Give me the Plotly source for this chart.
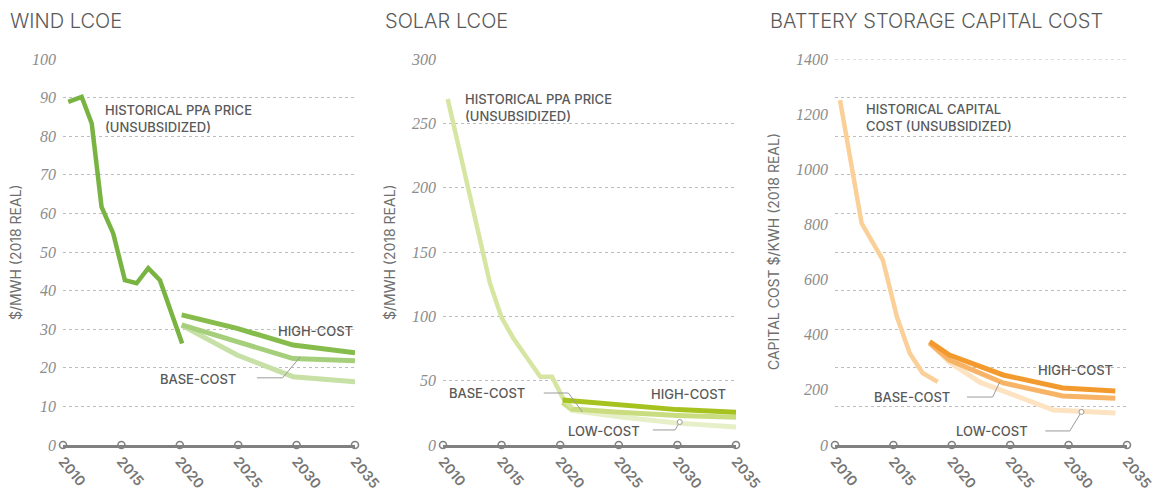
import plotly.graph_objects as go

# ---- data ----
tick_years = [2010, 2015, 2020, 2025, 2030, 2035]

wind_hist_x = [2010.45, 2011.6, 2012.46, 2013.3, 2014.3, 2015.3, 2016.3, 2017.3, 2018.3, 2020.2]
wind_hist_y = [88.9, 90.2, 83.3, 61.7, 54.8, 42.7, 41.9, 45.8, 42.7, 26.3]
wind_proj_x = [2020.16, 2024.9, 2029.7, 2035.0]
wind_high = [33.7, 30.2, 25.9, 23.9]
wind_base = [31.1, 26.8, 22.4, 21.8]
wind_low = [31.0, 23.3, 17.7, 16.4]

solar_hist_x = [2010.4, 2012.1, 2013.3, 2014.0, 2015.0, 2016.0, 2017.0, 2018.3, 2019.3, 2020.2, 2021.0]
solar_hist_y = [269, 200, 151, 126, 99, 83, 70, 53, 53, 37, 29]
solar_high_x = [2020.2, 2025.0, 2030.0, 2035.0]
solar_high = [35.0, 31.0, 27.5, 25.5]
solar_low_x = [2020.2, 2021.0, 2025.0, 2030.0, 2035.0]
solar_base = [33.0, 28.0, 25.5, 23.0, 21.5]
solar_low = [33.0, 27.0, 22.0, 17.0, 14.0]

batt_hist_x = [2010.43, 2012.28, 2014.1, 2015.3, 2016.4, 2017.5, 2018.8]
batt_hist_y = [1251, 804, 671, 465, 333, 261, 229]
batt_proj_x = [2018.1, 2019.8, 2024.4, 2029.5, 2034.0]
batt_high = [375, 326, 254, 207, 196]
batt_base = [370, 308, 225, 178, 170]
batt_low_x = [2018.1, 2019.8, 2022.4, 2028.7, 2034.0]
batt_low = [370, 300, 228, 127, 116]

GRAY = '#595959'
GRID = '#bdbdbd'
AXIS = '#808080'

fig = go.Figure()


def line(x, y, color, width, ax):
    fig.add_trace(go.Scatter(x=x, y=y, mode='lines', xaxis='x' + ax, yaxis='y' + ax,
                             line=dict(color=color, width=width), hoverinfo='skip',
                             showlegend=False))


# lowest lines first so the darker ones sit on top
line(wind_proj_x, wind_low, '#c6e0a6', 5, '')
line(wind_proj_x, wind_base, '#a6cf7c', 5, '')
line(wind_proj_x, wind_high, '#86bc4c', 5, '')
line(wind_hist_x, wind_hist_y, '#79b443', 4.5, '')

line(solar_low_x, solar_low, '#e6efc8', 5, '2')
line(solar_low_x, solar_base, '#c9dd80', 5, '2')
line(solar_hist_x, solar_hist_y, '#d6e6a2', 4.5, '2')
line(solar_high_x, solar_high, '#a6c21e', 5, '2')

line(batt_low_x, batt_low, '#fde3c2', 5, '3')
line(batt_proj_x, batt_base, '#f7b366', 5, '3')
line(batt_proj_x, batt_high, '#f39a2e', 5, '3')
line(batt_hist_x, batt_hist_y, '#fbcf98', 4.5, '3')

# axis tick circles
for ax in ['', '2', '3']:
    fig.add_trace(go.Scatter(x=tick_years, y=[0] * len(tick_years), mode='markers',
                             xaxis='x' + ax, yaxis='y' + ax, cliponaxis=False,
                             marker=dict(symbol='circle', size=7, color='white',
                                         line=dict(color=AXIS, width=1.6)),
                             hoverinfo='skip', showlegend=False))

ydom = [47 / 492, 433 / 492]
xdoms = [[63 / 1153, 355 / 1153], [443 / 1153, 736 / 1153], [835 / 1153, 1127 / 1153]]

xcommon = dict(range=[2010, 2035], tickvals=tick_years, tickangle=50, showgrid=False,
               zeroline=False, showline=True, linecolor=AXIS, linewidth=2.5, ticks='',
               ticklabeloverflow='allow',
               tickfont=dict(family='Inter', size=14, color='#767676', weight=600))
ycommon = dict(domain=ydom, showline=False, zeroline=False, ticks='',
               ticklabelstandoff=6,
               tickfont=dict(family='Liberation Serif', style='italic', size=16, color='#8c8c8c'),
               gridcolor=GRID, griddash='dot', gridwidth=1)

layout = dict(width=1153, height=492, margin=dict(l=0, r=0, t=0, b=0, autoexpand=False),
              plot_bgcolor='white', paper_bgcolor='white', showlegend=False)
layout['xaxis'] = dict(domain=xdoms[0], anchor='y', **xcommon)
layout['xaxis2'] = dict(domain=xdoms[1], anchor='y2', **xcommon)
layout['xaxis3'] = dict(domain=xdoms[2], anchor='y3', **xcommon)
layout['yaxis'] = dict(anchor='x', range=[0, 100], dtick=10, showgrid=True, **ycommon)
layout['yaxis2'] = dict(anchor='x2', range=[0, 300], dtick=50, showgrid=True, **ycommon)
layout['yaxis3'] = dict(anchor='x3', range=[0, 1400], dtick=200, showgrid=False,
                        minor=dict(dtick=140, tick0=0, showgrid=True, gridcolor=GRID,
                                   griddash='dot', gridwidth=1, ticks=''),
                        **ycommon)
fig.update_layout(**layout)

# top gridline on battery panel (minor grid skips the value shared with a major tick)
fig.add_shape(type='line', xref='x3 domain', yref='y3', x0=0, x1=1, y0=1400, y1=1400,
              line=dict(color=GRID, width=1, dash='dot'), layer='below')

# titles
for x, txt in [(8, 'WIND LCOE'), (383, 'SOLAR LCOE'), (768, 'BATTERY STORAGE CAPITAL COST')]:
    fig.add_annotation(x=x / 1153, y=1 - 21 / 492, xref='paper', yref='paper', text=txt,
                       showarrow=False, xanchor='left', yanchor='middle',
                       font=dict(family='Inter', size=20, color=GRAY, weight=300))

# y axis titles
for x, txt in [(15, '$/MWH (2018 REAL)'), (389, '$/MWH (2018 REAL)'),
               (773, 'CAPITAL COST $/KWH (2018 REAL)')]:
    fig.add_annotation(x=x / 1153, y=1 - 252 / 492, xref='paper', yref='paper', text=txt,
                       showarrow=False, textangle=-90, xanchor='center', yanchor='middle',
                       font=dict(family='Inter', size=14, color='#6e6e6e'))

lab = dict(family='Inter', size=13, color=GRAY, weight=500)


def note(ax, x, y, txt, xanchor='right', yanchor='middle'):
    fig.add_annotation(x=x, y=y, xref='x' + ax, yref='y' + ax, text=txt, showarrow=False,
                       xanchor=xanchor, yanchor=yanchor, align='left', font=lab)


note('', 2013.4, 89.5, 'HISTORICAL PPA PRICE<br>(UNSUBSIDIZED)', 'left', 'top')
note('', 2035.0, 29.5, 'HIGH-COST')
note('', 2025.0, 17.1, 'BASE-COST')
note('', 2035.4, 12.2, 'LOW-COST')

note('2', 2011.7, 277, 'HISTORICAL PPA PRICE<br>(UNSUBSIDIZED)', 'left', 'top')
note('2', 2017.2, 40.4, 'BASE-COST')
note('2', 2034.3, 39.6, 'HIGH-COST')
note('2', 2027.0, 10.9, 'LOW-COST')

note('3', 2012.5, 1255, 'HISTORICAL CAPITAL<br>COST (UNSUBSIDIZED)', 'left', 'top')
note('3', 2034.0, 272, 'HIGH-COST')
note('3', 2020.0, 174, 'BASE-COST')
note('3', 2026.7, 51, 'LOW-COST')

# leader lines
LEAD = '#9a9a9a'
leaders = [
    ('', 'M 2026.6,17.4 L 2028.8,17.4 L 2030.3,22.8', None),
    ('2', 'M 2018.6,40.4 L 2020.7,40.4 L 2021.9,25.6', None),
    ('2', 'M 2027.9,11.7 L 2029.8,11.7 L 2030.2,17.9', (2030.2, 17.9)),
    ('3', 'M 2021.3,174 L 2023.5,174 L 2024.1,228', None),
    ('3', 'M 2028.0,51 L 2030.1,51 L 2031.1,120', (2031.1, 120)),
]
for ax, path, dot in leaders:
    fig.add_shape(type='path', xref='x' + ax, yref='y' + ax, path=path,
                  line=dict(color=LEAD, width=1))
    if dot:
        fig.add_shape(type='circle', xref='x' + ax, yref='y' + ax, xsizemode='pixel',
                      ysizemode='pixel', xanchor=dot[0], yanchor=dot[1], x0=-2.5, x1=2.5,
                      y0=-2.5, y1=2.5, line=dict(color=LEAD, width=1), fillcolor='white')

# page has a default 8px body margin; drop it so the 1153x492 figure fills the window
fig.write_html('out.html', config={'displayModeBar': False},
               post_script="document.body.style.margin='0';document.body.style.overflow='hidden';")
